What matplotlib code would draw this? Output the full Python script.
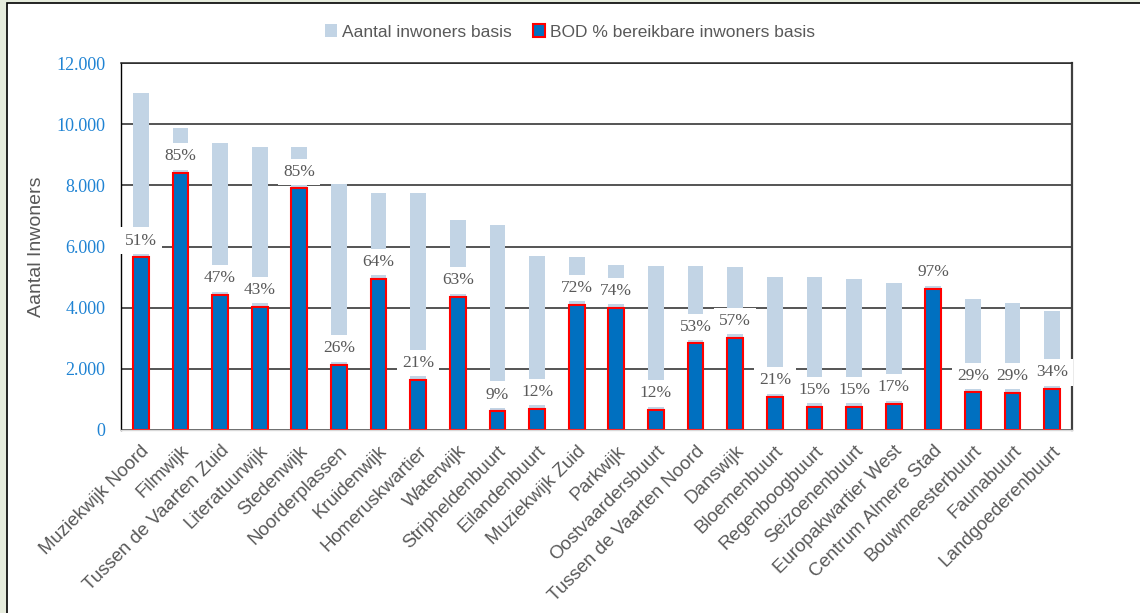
import matplotlib
matplotlib.use('Agg')
import matplotlib.pyplot as plt
from matplotlib.patches import Patch, Rectangle
from matplotlib.ticker import FuncFormatter
import numpy as np

# wijken
wijken = ['Muziekwijk Noord', 'Filmwijk', 'Tussen de Vaarten Zuid', 'Literatuurwijk',
          'Stedenwijk', 'Noorderplassen', 'Kruidenwijk', 'Homeruskwartier', 'Waterwijk',
          'Stripheldenbuurt', 'Eilandenbuurt', 'Muziekwijk Zuid', 'Parkwijk',
          'Oostvaardersbuurt', 'Tussen de Vaarten Noord', 'Danswijk', 'Bloemenbuurt',
          'Regenboogbuurt', 'Seizoenenbuurt', 'Europakwartier West', 'Centrum Almere Stad',
          'Bouwmeesterbuurt', 'Faunabuurt', 'Landgoederenbuurt']

# aantal inwoners basis
inwoners = [11020, 9880, 9380, 9250, 9250, 8040, 7760, 7760, 6870, 6700, 5700, 5660,
            5400, 5360, 5360, 5320, 5010, 5010, 4930, 4810, 4720, 4270, 4140, 3900]

# BOD bereikbare inwoners
bod = [5650, 8400, 4410, 4030, 7900, 2120, 4950, 1650, 4350, 610, 700, 4090,
       4000, 650, 2830, 3020, 1080, 760, 760, 850, 4620, 1230, 1220, 1340]

# percentage labels
pct = [51, 85, 47, 43, 85, 26, 64, 21, 63, 9, 12, 72, 74, 12, 53, 57, 21, 15, 15, 17,
       97, 29, 29, 34]

yticks = [0, 2000, 4000, 6000, 8000, 10000, 12000]

LICHT = '#C2D4E5'
BLAUW = '#0070C0'
ROOD = '#FF0000'
GRIJS = '#595959'

fig = plt.figure(figsize=(11.4, 6.13), dpi=100)

# achtergrond rand (groenig) en kader
fig.patches.append(Rectangle((0, 0), 1, 1, transform=fig.transFigure,
                             facecolor='#E6ECDD', edgecolor='none', zorder=-3))
fig.patches.append(Rectangle((7 / 1140, -0.1), 1.2, 1 - 3 / 613 + 0.1, transform=fig.transFigure,
                             facecolor='white', edgecolor='black', linewidth=1.2, zorder=-2))

ax = fig.add_axes([121 / 1140, 1 - 430 / 613, (1072 - 121) / 1140, (430 - 63) / 613])
x = np.arange(len(wijken))

ax.bar(x, inwoners, width=0.40, color=LICHT, zorder=1)
ax.bar(x, bod, width=0.40, color=BLAUW, edgecolor=ROOD, linewidth=1.5, zorder=2)

for i, (v, p) in enumerate(zip(bod, pct)):
    ax.annotate(f'{p}%', (i, v), xytext=(0, 12), textcoords='offset points',
                ha='center', va='center', fontsize=12.5, color=GRIJS,
                family='Liberation Serif', zorder=5, annotation_clip=False,
                bbox=dict(boxstyle='square,pad=0.3', facecolor='white', edgecolor='none'))

ax.set_xlim(-0.5, len(wijken) - 0.5)
ax.set_ylim(0, 12000)
ax.set_yticks(yticks)
ax.yaxis.set_major_formatter(FuncFormatter(lambda v, _: f'{int(v):,}'.replace(',', '.')))
ax.tick_params(axis='y', length=0, pad=11, labelsize=13, labelcolor='#1F83D3')
for lab in ax.get_yticklabels():
    lab.set_family('Liberation Serif')

ax.set_xticks(x)
ax.set_xticklabels(wijken, rotation=45, ha='right', rotation_mode='anchor',
                   fontsize=13.5, color=GRIJS, family='Liberation Sans')
ax.tick_params(axis='x', length=0, pad=9)

ax.set_axisbelow(True)
ax.grid(axis='y', color='#262626', linewidth=1.1)
ax.set_ylabel('Aantal Inwoners', fontsize=14, color=GRIJS, family='Liberation Sans',
              labelpad=8)

ax.spines['left'].set_color('black')
ax.spines['left'].set_linewidth(1.0)
ax.spines['top'].set_color('#262626')
ax.spines['top'].set_linewidth(1.1)
ax.spines['right'].set_color('#404040')
ax.spines['right'].set_linewidth(1.6)
ax.spines['bottom'].set_color('#D9D9D9')
ax.spines['bottom'].set_linewidth(1.0)

handles = [Patch(facecolor=LICHT, edgecolor='none', label='Aantal inwoners basis'),
           Patch(facecolor=BLAUW, edgecolor=ROOD, linewidth=1.5,
                 label='BOD % bereikbare inwoners basis')]
leg = fig.legend(handles=handles, loc='center', bbox_to_anchor=(0.5, 1 - 32 / 613), ncol=2,
                 frameon=False, handlelength=0.7, handleheight=0.7, handletextpad=0.3,
                 columnspacing=1.2, prop={'family': 'Liberation Sans', 'size': 12.5})
for t in leg.get_texts():
    t.set_color(GRIJS)

fig.savefig('out.png', dpi=100)
